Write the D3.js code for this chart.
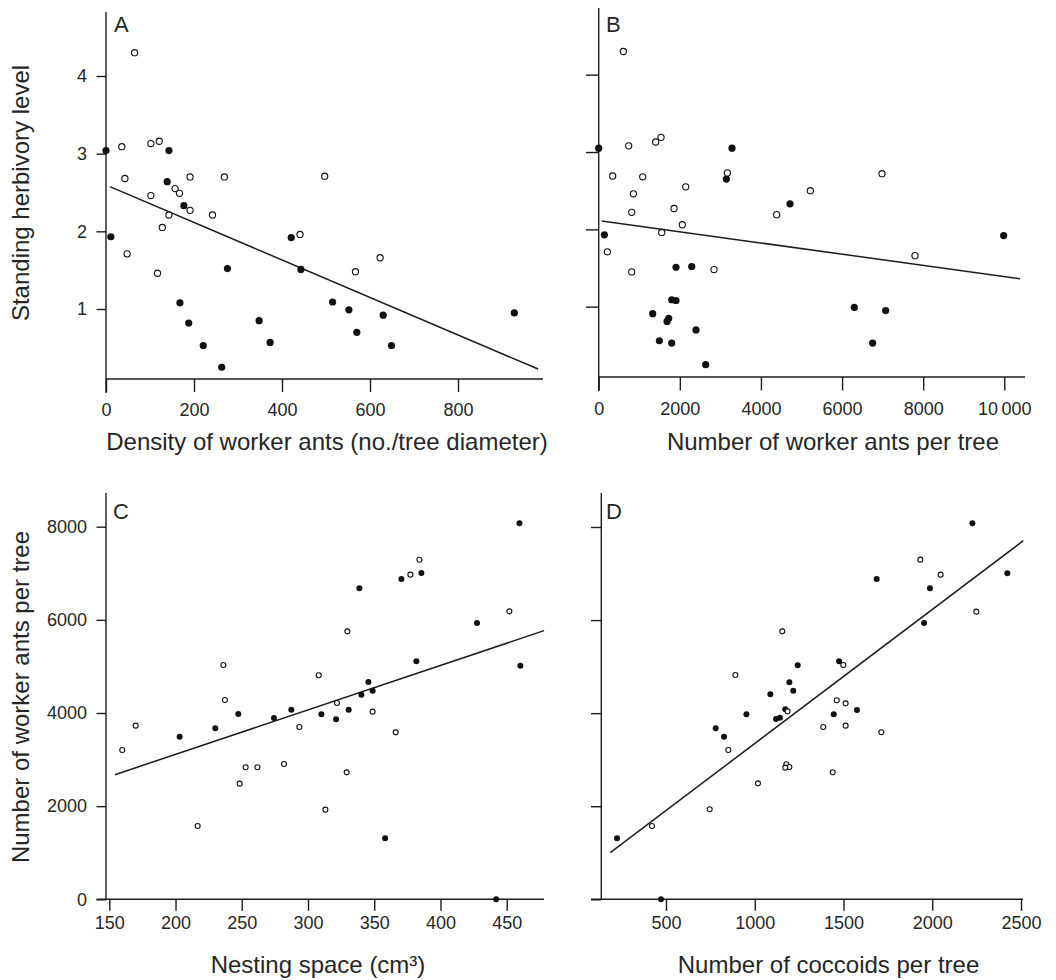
<!DOCTYPE html>
<html><head><meta charset="utf-8">
<script src="https://cdn.jsdelivr.net/npm/d3@7"></script>
<style>
html,body{margin:0;padding:0;background:#fff;}
svg{display:block;}
text{font-family:"Liberation Sans",Arial,Helvetica,sans-serif;fill:#262626;}
</style></head><body>
<svg id="chart" width="1056" height="980"></svg>
<script>
// ---------- DATA ----------
// Panel A: density of worker ants vs standing herbivory
const aDensity = [65,0,36,102,121,143,43,191,269,497,139,157,167,102,177,191,143,242,128,11,421,441,48,117,276,443,567,623,168,515,552,630,928,188,348,570,221,373,649,263];
const aHerbivory = [4.30,3.04,3.09,3.13,3.16,3.04,2.68,2.70,2.70,2.71,2.64,2.55,2.49,2.46,2.33,2.27,2.21,2.21,2.05,1.93,1.92,1.96,1.71,1.46,1.52,1.51,1.48,1.66,1.08,1.09,0.99,0.92,0.95,0.82,0.85,0.70,0.53,0.57,0.53,0.25];
const aFilled = [0,1,0,0,0,1,0,0,0,0,1,0,0,0,1,0,0,0,0,1,1,0,0,0,1,1,0,0,1,1,1,1,1,1,1,1,1,1,1,1];
const aFitX = [9, 982];
const aFitY = [2.575, 0.227];
const aXTicks = [0,200,400,600,800];
const aXTickLabels = ["0","200","400","600","800"];
const aYTicks = [1,2,3,4];
const aYTickLabels = ["1","2","3","4"];

// Panel B: number of worker ants per tree vs standing herbivory
const bAnts = [608,0,740,1405,1537,3287,345,1085,3172,3147,2145,855,6985,5218,4717,814,1857,4388,2062,140,1553,9984,214,814,1906,2293,2843,7798,1800,1906,6302,7075,1331,1726,1685,2399,1496,1800,6754,2638];
const bHerbivory = [4.30,3.05,3.08,3.13,3.19,3.05,2.69,2.68,2.73,2.65,2.55,2.46,2.72,2.50,2.33,2.22,2.27,2.19,2.06,1.93,1.96,1.92,1.71,1.45,1.51,1.52,1.48,1.66,1.09,1.08,0.99,0.95,0.91,0.85,0.81,0.70,0.56,0.53,0.53,0.25];
const bFilled = [0,1,0,0,0,1,0,0,0,1,0,0,0,0,1,0,0,0,0,1,0,1,0,0,1,1,0,0,1,1,1,1,1,1,1,1,1,1,1,1];
const bFitX = [74, 10387];
const bFitY = [2.108, 1.362];
const bXTicks = [0,2000,4000,6000,8000,10000];
const bXTickLabels = ["0","2000","4000","6000","8000","10\u2009000"];
const bYTicks = [1,2,3,4];

// Panel C: nesting space vs number of worker ants per tree
const cNesting = [459.6,384.1,370.5,377.3,385.6,338.8,452.0,427.6,329.7,381.8,460.3,236.1,308.1,345.6,348.8,340.3,237.3,321.9,287.4,330.7,348.8,247.4,310.1,274.3,321.2,169.9,293.5,230.0,203.1,366.2,159.8,281.9,252.9,261.8,248.4,329.2,313.1,216.7,358.2,442.0];
const cAnts = [8072,7292,6877,6970,7006,6677,6183,5932,5753,5109,5016,5031,4809,4666,4480,4394,4279,4215,4072,4072,4029,3979,3972,3893,3864,3728,3700,3671,3492,3585,3206,2905,2834,2834,2483,2726,1925,1574,1310,0];
const cFilled = [1,0,1,0,1,1,0,1,0,1,1,0,0,1,1,1,0,0,1,1,0,1,1,1,1,0,0,1,1,0,0,0,0,0,0,0,0,0,1,1];
const cFitX = [154.3, 478.2];
const cFitY = [2676, 5768];
const cXTicks = [150,200,250,300,350,400,450];
const cXTickLabels = ["150","200","250","300","350","400","450"];
const cYTicks = [0,2000,4000,6000,8000];
const cYTickLabels = ["0","2000","4000","6000","8000"];

// Panel D: number of coccoids per tree vs number of worker ants per tree
const dCoccoids = [2226,1933,2047,1687,2423,1987,2248,1954,1155,1475,1499,1242,891,1195,1217,1088,1462,1512,1172,1185,1576,1445,953,1142,1120,1386,1512,780,827,1713,851,1178,1195,1172,1018,1439,746,421,224,472];
const dAnts = [8079,7298,6976,6883,7004,6682,6181,5937,5758,5114,5035,5028,4820,4662,4483,4405,4276,4211,4082,4039,4068,3975,3975,3903,3875,3703,3731,3674,3495,3588,3209,2901,2843,2829,2492,2729,1934,1576,1311,0];
const dFilled = [1,0,0,1,1,1,0,1,0,1,0,1,0,1,1,1,0,0,1,0,1,1,1,1,1,0,0,1,1,0,0,0,0,0,0,0,0,0,1,1];
const dFitX = [186, 2513];
const dFitY = [1003, 7706];
const dXTicks = [500,1000,1500,2000,2500];
const dXTickLabels = ["500","1000","1500","2000","2500"];
const dYTicks = [0,2000,4000,6000,8000];

const panelLetters = ["A","B","C","D"];
const xTitles = ["Density of worker ants (no./tree diameter)","Number of worker ants per tree","Nesting space (cm\u00B3)","Number of coccoids per tree"];
const yTitles = ["Standing herbivory level","Number of worker ants per tree"];

// ---------- DRAW ----------
const svg = d3.select("#chart");
const ink = "#1c1c1c";

function panel(cfg) {
  const g = svg.append("g");
  const x = d3.scaleLinear().domain(cfg.xDomain).range(cfg.xRange);
  const y = d3.scaleLinear().domain(cfg.yDomain).range(cfg.yRange);

  // axis lines
  g.append("line").attr("x1", cfg.yAxisX).attr("x2", cfg.yAxisX)
    .attr("y1", cfg.yLine[0]).attr("y2", cfg.yLine[1])
    .attr("stroke", ink).attr("stroke-width", 1.4);
  g.append("line").attr("x1", cfg.xLine[0]).attr("x2", cfg.xLine[1])
    .attr("y1", cfg.xAxisY).attr("y2", cfg.xAxisY)
    .attr("stroke", ink).attr("stroke-width", 1.4);

  // x axis ticks
  const xa = d3.axisBottom(x).tickValues(cfg.xTicks).tickSize(cfg.xTickLen)
    .tickPadding(cfg.xPad).tickFormat((d, i) => cfg.xTickLabels[i]);
  const gx = g.append("g").attr("transform", `translate(0,${cfg.xAxisY})`).call(xa);
  gx.select(".domain").remove();
  gx.attr("font-size", 18).attr("font-family", null);
  gx.selectAll(".tick line").attr("stroke", ink).attr("stroke-width", 1.4);

  // y axis ticks
  const ya = d3.axisLeft(y).tickValues(cfg.yTicks).tickSize(cfg.yTickLen)
    .tickPadding(cfg.yPad).tickFormat((d, i) => cfg.yTickLabels ? cfg.yTickLabels[i] : "");
  const gy = g.append("g").attr("transform", `translate(${cfg.yAxisX},0)`).call(ya);
  gy.select(".domain").remove();
  gy.attr("font-size", 18).attr("font-family", null);
  gy.selectAll(".tick line").attr("stroke", ink).attr("stroke-width", 1.4);

  // regression line
  g.append("line")
    .attr("x1", x(cfg.fitX[0])).attr("y1", y(cfg.fitY[0]))
    .attr("x2", x(cfg.fitX[1])).attr("y2", y(cfg.fitY[1]))
    .attr("stroke", ink).attr("stroke-width", 1.5);

  // points
  const pts = cfg.xs.map((v, i) => ({x: v, y: cfg.ys[i], f: cfg.filled[i]}));
  g.selectAll("circle.f").data(pts.filter(d => d.f)).join("circle")
    .attr("class", "f")
    .attr("cx", d => x(d.x)).attr("cy", d => y(d.y))
    .attr("r", cfg.r).attr("fill", "#111");
  g.selectAll("circle.o").data(pts.filter(d => !d.f)).join("circle")
    .attr("class", "o")
    .attr("cx", d => x(d.x)).attr("cy", d => y(d.y))
    .attr("r", cfg.r - 0.5).attr("fill", "#fff").attr("stroke", "#111").attr("stroke-width", 1.1);

  // panel letter
  g.append("text").attr("x", cfg.letterPos[0]).attr("y", cfg.letterPos[1])
    .attr("font-size", 22).text(cfg.letter);

  // x title
  g.append("text").attr("x", cfg.xTitlePos[0]).attr("y", cfg.xTitlePos[1])
    .attr("text-anchor", "middle").attr("font-size", 24).text(cfg.xTitle);

  // y title
  if (cfg.yTitle) {
    g.append("text")
      .attr("transform", `translate(${cfg.yTitlePos[0]},${cfg.yTitlePos[1]}) rotate(-90)`)
      .attr("text-anchor", "middle").attr("font-size", 24).text(cfg.yTitle);
  }
}

panel({
  xs: aDensity, ys: aHerbivory, filled: aFilled, fitX: aFitX, fitY: aFitY,
  xDomain: [0, 800], xRange: [106, 458], yDomain: [1, 4], yRange: [309, 76],
  xTicks: aXTicks, xTickLabels: aXTickLabels, yTicks: aYTicks, yTickLabels: aYTickLabels,
  yAxisX: 106, yLine: [12, 393], xAxisY: 379, xLine: [106, 543],
  xTickLen: 13, xPad: 11, yTickLen: 9.5, yPad: 9.5, r: 3.6,
  letter: panelLetters[0], letterPos: [114, 32],
  xTitle: xTitles[0], xTitlePos: [327, 450],
  yTitle: yTitles[0], yTitlePos: [29, 193]
});

panel({
  xs: bAnts, ys: bHerbivory, filled: bFilled, fitX: bFitX, fitY: bFitY,
  xDomain: [0, 10000], xRange: [598.7, 1004.3], yDomain: [1, 4], yRange: [306.7, 74.7],
  xTicks: bXTicks, xTickLabels: bXTickLabels, yTicks: bYTicks, yTickLabels: null,
  yAxisX: 598.7, yLine: [8, 391], xAxisY: 377, xLine: [598.7, 1025],
  xTickLen: 13.5, xPad: 11.5, yTickLen: 12.7, yPad: 5, r: 3.6,
  letter: panelLetters[1], letterPos: [606, 31.7],
  xTitle: xTitles[1], xTitlePos: [833, 450]
});

panel({
  xs: cNesting, ys: cAnts, filled: cFilled, fitX: cFitX, fitY: cFitY,
  xDomain: [150, 450], xRange: [109.3, 506.7], yDomain: [0, 8000], yRange: [899.3, 526.7],
  xTicks: cXTicks, xTickLabels: cXTickLabels, yTicks: cYTicks, yTickLabels: cYTickLabels,
  yAxisX: 106, yLine: [493, 899.3], xAxisY: 899.3, xLine: [96.5, 544],
  xTickLen: 11.5, xPad: 5.5, yTickLen: 9.5, yPad: 9.5, r: 3,
  letter: panelLetters[2], letterPos: [113, 519.3],
  xTitle: xTitles[2], xTitlePos: [318, 973],
  yTitle: yTitles[1], yTitlePos: [29, 697]
});

panel({
  xs: dCoccoids, ys: dAnts, filled: dFilled, fitX: dFitX, fitY: dFitY,
  xDomain: [500, 2500], xRange: [666, 1021], yDomain: [0, 8000], yRange: [899.3, 527],
  xTicks: dXTicks, xTickLabels: dXTickLabels, yTicks: dYTicks, yTickLabels: null,
  yAxisX: 601.3, yLine: [493, 899.3], xAxisY: 899.3, xLine: [591, 1023],
  xTickLen: 11.5, xPad: 5.5, yTickLen: 10.3, yPad: 5, r: 3,
  letter: panelLetters[3], letterPos: [606, 519.3],
  xTitle: xTitles[3], xTitlePos: [828.5, 973]
});
</script>
</body></html>
